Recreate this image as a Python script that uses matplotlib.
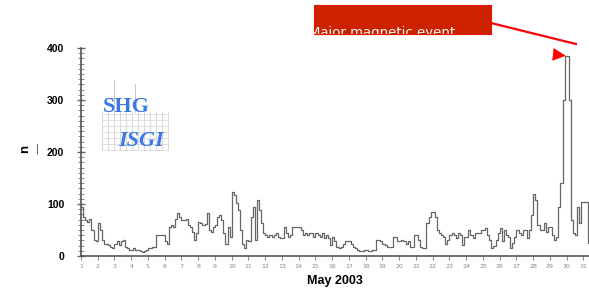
import matplotlib
matplotlib.use("Agg")
import matplotlib.pyplot as plt
import numpy as np
from matplotlib.patches import Rectangle
from matplotlib.lines import Line2D

# 3-hourly values, one row per day of May 2003
day_values = [
    [95, 75, 69, 66, 72, 50, 31, 28],       # 1
    [63, 50, 31, 24, 24, 21, 18, 15],       # 2
    [24, 28, 22, 28, 30, 18, 15, 12],       # 3
    [12, 15, 12, 12, 10, 8, 10, 12],        # 4
    [15, 15, 18, 18, 40, 40, 40, 40],       # 5
    [28, 24, 56, 60, 56, 72, 82, 75],       # 6
    [69, 69, 72, 60, 55, 47, 31, 44],       # 7
    [66, 63, 60, 62, 82, 50, 47, 55],       # 8
    [60, 75, 79, 70, 44, 24, 56, 37],       # 9
    [124, 117, 101, 88, 50, 24, 15, 31],    # 10
    [28, 75, 95, 31, 108, 88, 63, 44],      # 11
    [40, 37, 40, 37, 40, 44, 37, 34],       # 12
    [34, 56, 44, 37, 40, 56, 56, 56],       # 13
    [56, 50, 40, 44, 40, 44, 44, 37],       # 14
    [44, 40, 37, 44, 34, 40, 35, 21],       # 15
    [37, 28, 18, 15, 18, 24, 28, 28],       # 16
    [28, 24, 18, 15, 12, 10, 10, 12],       # 17
    [12, 10, 10, 12, 12, 31, 31, 28],       # 18
    [24, 21, 18, 18, 18, 37, 37, 28],       # 19
    [28, 31, 28, 24, 28, 18, 18, 40],       # 20
    [40, 31, 18, 15, 15, 63, 75, 85],       # 21
    [85, 75, 50, 44, 40, 37, 24, 30],       # 22
    [40, 44, 40, 34, 44, 40, 21, 37],       # 23
    [37, 50, 40, 34, 44, 44, 44, 50],       # 24
    [50, 53, 40, 31, 15, 20, 31, 45],       # 25
    [53, 28, 50, 40, 37, 15, 25, 37],       # 26
    [50, 45, 40, 50, 50, 34, 50, 79],       # 27
    [120, 108, 60, 50, 50, 63, 47, 56],     # 28
    [56, 40, 31, 36, 94, 140, 300, 385],    # 29
    [385, 300, 69, 44, 40, 94, 63, 104],    # 30
    [104, 104, 25],                         # 31 (only start visible)
]
days = list(range(1, 32))
y_ticks = [0, 100, 200, 300, 400]
event_label = "Major magnetic event"

values = np.array([v for row in day_values for v in row], dtype=float)
t = 1 + np.arange(len(values)) / 8.0

fig = plt.figure(figsize=(5.89, 2.91), dpi=100)
ax = fig.add_axes([81 / 589, 35 / 291, 508 / 589, 208 / 291])

ax.step(np.append(t, t[-1] + 0.125), np.append(values, values[-1]),
        where="post", color="#666666", lw=0.9)

ax.set_xlim(1, 31.33)
ax.set_ylim(0, 400)
for s in ["top", "right"]:
    ax.spines[s].set_visible(False)
for s in ["left", "bottom"]:
    ax.spines[s].set_color("#555555")
    ax.spines[s].set_linewidth(1.2)

ax.set_yticks(y_ticks)
ax.set_yticks(np.arange(0, 401, 10), minor=True)
ax.tick_params(axis="y", which="major", direction="inout", length=6,
               width=1, color="#666666", labelsize=7.5, pad=9)
ax.tick_params(axis="y", which="minor", direction="inout", length=4,
               width=0.7, color="#888888")
for lab in ax.get_yticklabels():
    lab.set_fontweight("bold")
    lab.set_family("Liberation Sans")

ax.set_xticks(days)
ax.set_xticklabels([str(d) for d in days])
ax.tick_params(axis="x", which="major", direction="out", length=3,
               width=0.7, color="#888888", labelsize=4.5,
               labelcolor="#888888", pad=3)
ax.set_xlabel("May 2003", fontsize=9, fontweight="bold", labelpad=4,
              family="Liberation Sans")

# y label "n" with small mark
fig.text(25 / 589, 1 - 149 / 291, "n", rotation=90, fontsize=9.5,
         fontweight="bold", ha="center", va="center",
         family="Liberation Sans")
fig.text(37 / 589, 1 - 149 / 291, "|", fontsize=7, color="#333333",
         ha="center", va="center")

# logo: faint grid with SHG / ISGI text
for xx in np.linspace(102, 168, 12):
    fig.add_artist(Line2D([xx / 589, xx / 589], [1 - 150 / 291, 1 - 112 / 291],
                          color="#d2d2d2", lw=0.6))
for yy in np.linspace(114, 150, 7):
    fig.add_artist(Line2D([102 / 589, 168 / 589], [1 - yy / 291, 1 - yy / 291],
                          color="#d8d8d8", lw=0.6))
fig.add_artist(Line2D([114 / 589, 114 / 589], [1 - 112 / 291, 1 - 80 / 291],
                      color="#bbbbbb", lw=0.6))
fig.add_artist(Line2D([135 / 589, 135 / 589], [1 - 112 / 291, 1 - 84 / 291],
                      color="#bbbbbb", lw=0.6))
fig.text(103 / 589, 1 - 107 / 291, "SHG", family="Liberation Serif",
         fontsize=16, fontweight="bold", color="#3a78e8", va="center")
fig.text(118 / 589, 1 - 141 / 291, "ISGI", family="Liberation Serif",
         fontsize=16, fontweight="bold", style="italic", color="#3a78e8",
         va="center")

# red call-out box
box = Rectangle((314 / 589, 1 - 34 / 291), 177 / 589, 29 / 291,
                transform=fig.transFigure, facecolor="#cc2200",
                edgecolor="#ee1100", lw=0.8)
fig.add_artist(box)
txt = fig.text(309 / 589, 1 - 36 / 291, event_label, fontsize=9.5,
               color="white", ha="left", va="baseline")
txt.set_clip_path(box)
fig.add_artist(Line2D([491 / 589, 576 / 589], [1 - 23 / 291, 1 - 44 / 291],
                      color="red", lw=1.6))

# arrowhead on the peak
ipk = int(np.argmax(values))
ax.annotate("", xy=(t[ipk] + 0.0625, values[ipk]), xytext=(-9, 1),
            textcoords="offset points", annotation_clip=False,
            arrowprops=dict(arrowstyle="-|>,head_length=0.7,head_width=0.35",
                            mutation_scale=12, color="red", lw=0.5,
                            shrinkA=0, shrinkB=0))

fig.savefig("out.png", dpi=100)
